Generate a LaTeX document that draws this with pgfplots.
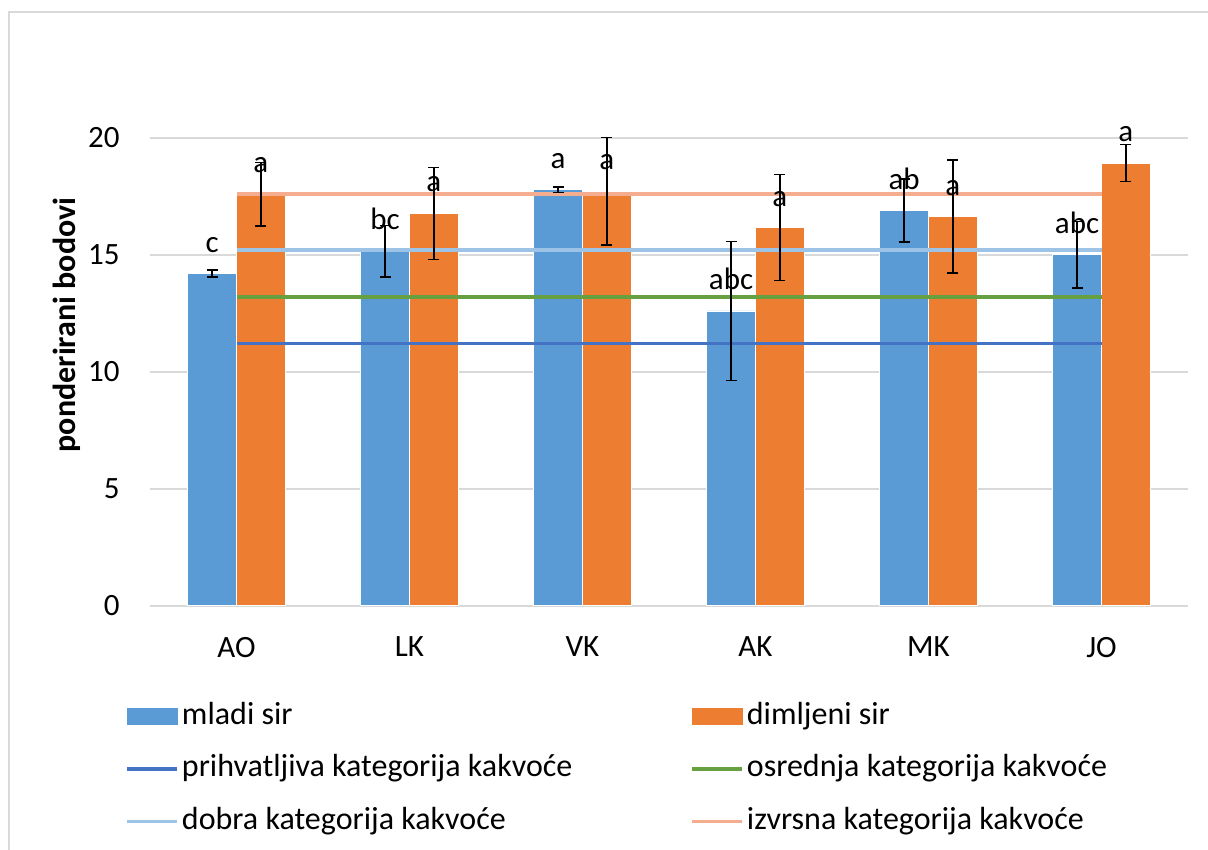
\documentclass[border=0pt]{standalone}
\usepackage{pgfplots}
\pgfplotsset{compat=1.18}
\usepackage{pgfplotstable}
\usepackage{fontspec}
\setmainfont{Carlito}
\definecolor{barblue}{HTML}{5B9BD5}
\definecolor{barorange}{HTML}{ED7D31}
\definecolor{prih}{HTML}{4472C4}
\definecolor{osred}{HTML}{67A040}
\definecolor{dobra}{HTML}{9DC3E6}
\definecolor{izvr}{HTML}{F4AD8E}
\definecolor{gridgray}{HTML}{D9D9D9}

\pgfplotstableread{
v e l
14.20 0.15 c
15.15 1.10 bc
17.78 0.12 a
12.60 2.98 abc
16.90 1.35 ab
15.00 1.42 abc
}\mladi

\pgfplotstableread{
v e l
17.60 1.36 a
16.78 1.97 a
17.72 2.30 a
16.17 2.27 a
16.64 2.42 a
18.93 0.80 a
}\dimljeni

\begin{document}
\begin{tikzpicture}
\begin{axis}[
  at={(75bp,122.25bp)}, anchor=south west,
  width=519bp, height=233.75bp, scale only axis,
  xmin=-0.5, xmax=5.5, ymin=0, ymax=20,
  clip=false,
  xtick={0,1,2,3,4,5},
  xticklabels={AO,LK,VK,AK,MK,JO},
  ytick={0,5,10,15,20},
  ymajorgrids, grid style={gridgray, line width=1bp},
  axis line style={draw=none},
  major tick style={draw=none},
  /pgf/number format/assume math mode=true,
  tick label style={font=\fontsize{15.5bp}{18bp}\selectfont},
  yticklabel style={anchor=east, inner sep=0pt, xshift=-15bp},
  xticklabel style={anchor=north, inner sep=0pt, yshift=-15.5bp},
  ylabel={ponderirani bodovi},
  ylabel style={at={(axis description cs:-0.08,0.6)}, anchor=center, font=\fontsize{16bp}{19bp}\selectfont\bfseries},
  legend columns=2,
  legend cell align=left,
  legend style={draw=none, fill=none, inner sep=0pt,
    at={(axis description cs:-0.0241,-0.1957)}, anchor=north west,
    font=\fontsize{16bp}{19bp}\selectfont,
    row sep=7.3bp,
    nodes={inner sep=1.5bp, text height=12bp, text depth=4bp},
    /tikz/every even column/.append style={column sep=57.5bp}},
]
\addplot[ybar, bar width=24.4bp, bar shift=-12.2bp, fill=barblue, draw=white, line width=0.4bp,
  legend image code/.code={\fill[barblue] (0bp,-4bp) rectangle (25bp,4bp);}]
  table[x expr=\coordindex, y=v] {\mladi};
\addlegendentry{mladi sir}
\addplot[ybar, bar width=24.4bp, bar shift=12.2bp, fill=barorange, draw=white, line width=0.4bp,
  legend image code/.code={\fill[barorange] (0bp,-4bp) rectangle (25bp,4bp);}]
  table[x expr=\coordindex, y=v] {\dimljeni};
\addlegendentry{dimljeni sir}
\addplot[sharp plot, mark=none, prih, line width=1.8bp,
  legend image code/.code={\draw[prih, line width=1.8bp] (0bp,0bp) -- (25bp,0bp);}]
  coordinates {(0,11.2) (5,11.2)};
\addlegendentry{prihvatljiva kategorija kakvoće}
\addplot[sharp plot, mark=none, osred, line width=1.8bp,
  legend image code/.code={\draw[osred, line width=1.8bp] (0bp,0bp) -- (25bp,0bp);}]
  coordinates {(0,13.2) (5,13.2)};
\addlegendentry{osrednja kategorija kakvoće}
\addplot[sharp plot, mark=none, dobra, line width=1.8bp,
  legend image code/.code={\draw[dobra, line width=1.8bp] (0bp,0bp) -- (25bp,0bp);}]
  coordinates {(0,15.2) (5,15.2)};
\addlegendentry{dobra kategorija kakvoće}
\addplot[sharp plot, mark=none, izvr, line width=1.8bp,
  legend image code/.code={\draw[izvr, line width=1.8bp] (0bp,0bp) -- (25bp,0bp);}]
  coordinates {(0,17.6) (5,17.6)};
\addlegendentry{izvrsna kategorija kakvoće}
% error bars and letters
\addplot[forget plot, draw=none, mark=none,
  error bars/.cd, y dir=both, y explicit, error mark=-,
  error bar style={draw=black, solid, line width=0.7bp},
  error mark options={rotate=90, draw=black, solid, line width=0.7bp, mark size=2.75bp}]
  table[x expr=\coordindex-0.141, y=v, y error=e] {\mladi};
\addplot[forget plot, draw=none, mark=none,
  error bars/.cd, y dir=both, y explicit, error mark=-,
  error bar style={draw=black, solid, line width=0.7bp},
  error mark options={rotate=90, draw=black, solid, line width=0.7bp, mark size=2.75bp}]
  table[x expr=\coordindex+0.141, y=v, y error=e] {\dimljeni};
\addplot[forget plot, draw=none, mark=none,
  nodes near coords, point meta=explicit symbolic,
  every node near coord/.append style={anchor=base, inner sep=0pt, yshift=10.7bp, text=black,
    font=\fontsize{15.5bp}{18bp}\selectfont}]
  table[x expr=\coordindex-0.141, y=v, meta=l] {\mladi};
\addplot[forget plot, draw=none, mark=none,
  nodes near coords, point meta=explicit symbolic,
  every node near coord/.append style={anchor=base, inner sep=0pt, yshift=10.7bp, text=black,
    font=\fontsize{15.5bp}{18bp}\selectfont}]
  table[x expr=\coordindex+0.141, y=v, meta=l] {\dimljeni};
\end{axis}
\draw[gridgray, line width=1bp] (4.5bp,-20bp) -- (4.5bp,419bp) -- (620bp,419bp);
\pgfresetboundingbox
\path[use as bounding box] (0,0) rectangle (604bp,425bp);
\end{tikzpicture}
\end{document}
